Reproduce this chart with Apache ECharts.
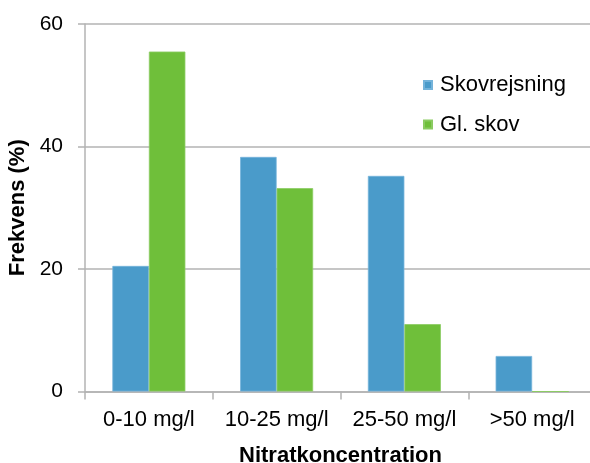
<!DOCTYPE html>
<html>
<head>
<meta charset="utf-8">
<script src="https://cdn.jsdelivr.net/npm/echarts@6/dist/echarts.min.js"></script>
<style>
  html, body { margin: 0; padding: 0; background: #fff; }
  #chart { width: 590px; height: 463px; }
</style>
</head>
<body>
<div id="chart"></div>
<script>
// Nitrate concentration classes and frequency (%) per land-use type
const categories = ['0-10 mg/l', '10-25 mg/l', '25-50 mg/l', '>50 mg/l'];
const skovrejsning = [20.5, 38.3, 35.2, 5.8];
const glSkov = [55.5, 33.2, 11.0, 0];
const yTicks = { min: 0, max: 60, interval: 20 };

const FONT = '"Liberation Sans", Arial, sans-serif';
const FS = 22;
const BLUE = '#4A9BCA';
const GREEN = '#6FBF3A';
const GRID = '#B3B3B3';

const chart = echarts.init(document.getElementById('chart'), null, { renderer: 'canvas' });

chart.setOption({
  animation: false,
  backgroundColor: '#fff',
  textStyle: { fontFamily: FONT },
  grid: {
    left: 85, right: -6, top: 24, bottom: 71.5,
    containLabel: false,
    outerBoundsMode: 'none'
  },
  legend: {
    orient: 'vertical',
    left: 418, top: 68,
    itemWidth: 8, itemHeight: 8,
    itemGap: 15.5,
    icon: 'rect',
    textStyle: { fontFamily: FONT, fontSize: FS, color: '#000', lineHeight: 24, padding: [0, 0, 0, 3] },
    data: ['Skovrejsning', 'Gl. skov']
  },
  xAxis: {
    type: 'category',
    data: categories,
    name: 'Nitratkoncentration',
    nameLocation: 'middle',
    nameGap: 53,
    nameTextStyle: { fontFamily: FONT, fontSize: FS, fontWeight: 'bold', color: '#000' },
    axisLine: { show: true, lineStyle: { color: GRID, width: 1.5 } },
    axisTick: { show: true, length: 8, lineStyle: { color: GRID, width: 1.5 } },
    axisLabel: { interval: 0, fontFamily: FONT, fontSize: FS, color: '#000', margin: 17 },
    splitLine: { show: false }
  },
  yAxis: {
    type: 'value',
    min: yTicks.min, max: yTicks.max, interval: yTicks.interval,
    name: 'Frekvens (%)',
    nameLocation: 'middle',
    nameRotate: 90,
    nameGap: 48,
    nameTextStyle: { fontFamily: FONT, fontSize: FS, fontWeight: 'bold', color: '#000' },
    axisLine: { show: true, lineStyle: { color: GRID, width: 1.5 } },
    axisTick: { show: true, length: 7, lineStyle: { color: GRID, width: 1.5 } },
    axisLabel: { fontFamily: FONT, fontSize: 21, color: '#000', margin: 22 },
    splitLine: { show: true, lineStyle: { color: GRID, width: 1.5 } }
  },
  series: [
    {
      name: 'Skovrejsning',
      type: 'bar',
      data: skovrejsning,
      barWidth: 36.5,
      barGap: '0%',
      itemStyle: { color: BLUE, borderColor: '#74B3DA', borderWidth: 0.8 }
    },
    {
      name: 'Gl. skov',
      type: 'bar',
      data: glSkov,
      barWidth: 36.5,
      barGap: '0%',
      itemStyle: { color: GREEN, borderColor: '#8BCB62', borderWidth: 0.8 }
    }
  ]
});
</script>
</body>
</html>
